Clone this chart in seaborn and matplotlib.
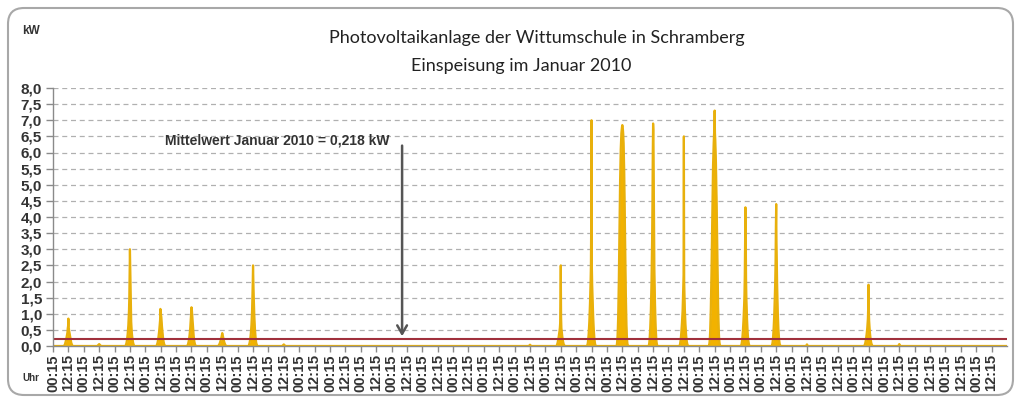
import numpy as np
import pandas as pd
import seaborn as sns
import matplotlib.pyplot as plt
from matplotlib.patches import FancyBboxPatch

# Einspeisung (kW), 15-min values around noon, centred on 12:15 of each day
day01 = [0.00, 0.01, 0.03, 0.05, 0.08, 0.12, 0.16, 0.20, 0.26, 0.31, 0.36, 0.42, 0.55, 0.62, 0.85,
         0.58, 0.50, 0.44, 0.38, 0.31, 0.25, 0.19, 0.14, 0.10, 0.07, 0.04, 0.02, 0.01, 0.00]
day02 = [0.01, 0.02, 0.03, 0.04, 0.05, 0.06, 0.05, 0.04, 0.03, 0.02, 0.01]
day03 = [0.00, 0.02, 0.05, 0.09, 0.14, 0.20, 0.28, 0.38, 0.50, 0.65, 0.85, 1.10, 1.50, 2.20, 3.00,
         2.40, 1.60, 1.05, 0.75, 0.55, 0.40, 0.30, 0.22, 0.15, 0.10, 0.06, 0.03, 0.01, 0.00]
day04 = [0.00, 0.01, 0.03, 0.06, 0.10, 0.15, 0.20, 0.28, 0.36, 0.45, 0.55, 0.68, 0.80, 1.15, 1.00,
         0.95, 0.90, 0.72, 0.60, 0.48, 0.38, 0.28, 0.20, 0.14, 0.09, 0.05, 0.03, 0.01, 0.00]
day05 = [0.00, 0.01, 0.03, 0.05, 0.09, 0.14, 0.19, 0.26, 0.34, 0.44, 0.55, 0.70, 0.85, 1.00, 1.20,
         1.15, 1.00, 0.82, 0.66, 0.52, 0.40, 0.30, 0.21, 0.14, 0.09, 0.05, 0.03, 0.01, 0.00]
day06 = [0.00, 0.00, 0.01, 0.02, 0.04, 0.06, 0.08, 0.11, 0.14, 0.17, 0.21, 0.25, 0.30, 0.35, 0.40,
         0.36, 0.31, 0.26, 0.21, 0.17, 0.13, 0.10, 0.07, 0.05, 0.03, 0.02, 0.01, 0.00, 0.00]
day07 = [0.00, 0.02, 0.05, 0.09, 0.14, 0.20, 0.28, 0.38, 0.50, 0.65, 0.85, 1.10, 1.50, 1.95, 2.50,
         2.00, 1.60, 1.25, 0.95, 0.72, 0.52, 0.38, 0.26, 0.17, 0.10, 0.06, 0.03, 0.01, 0.00]
day08 = [0.01, 0.02, 0.03, 0.04, 0.05, 0.04, 0.03, 0.02, 0.01]
day16 = [0.01, 0.02, 0.03, 0.04, 0.03, 0.02, 0.01]
day17 = [0.00, 0.01, 0.03, 0.06, 0.10, 0.15, 0.20, 0.26, 0.32, 0.40, 0.48, 0.55, 0.70, 1.40, 2.50,
         0.90, 0.55, 0.45, 0.36, 0.28, 0.21, 0.15, 0.10, 0.06, 0.04, 0.02, 0.01, 0.00, 0.00]
day18 = [0.00, 0.03, 0.08, 0.15, 0.25, 0.38, 0.55, 0.75, 1.00, 1.30, 1.65, 2.00, 2.50, 4.00, 7.00,
         2.45, 1.90, 1.55, 1.25, 0.95, 0.70, 0.50, 0.34, 0.22, 0.13, 0.07, 0.03, 0.01, 0.00]
day19 = [0.00, 0.05, 0.15, 0.30, 0.55, 0.90, 1.40, 2.00, 2.80, 3.60, 4.40, 5.10, 5.70, 6.10, 6.40,
         6.60, 6.70, 6.80, 6.85, 6.80, 6.70, 6.55, 6.30, 5.90, 5.40, 4.70, 3.90, 3.10, 2.30, 1.60,
         1.05, 0.65, 0.35, 0.17, 0.07, 0.02, 0.00]
day20 = [0.00, 0.03, 0.10, 0.20, 0.35, 0.55, 0.80, 1.10, 1.50, 2.00, 2.60, 3.40, 4.50, 6.00, 6.90,
         6.70, 5.20, 3.30, 2.40, 1.80, 1.30, 0.90, 0.60, 0.38, 0.22, 0.11, 0.05, 0.02, 0.00]
day21 = [0.00, 0.02, 0.06, 0.12, 0.20, 0.30, 0.42, 0.56, 0.72, 0.90, 1.10, 1.40, 1.80, 2.20, 6.50,
         2.00, 1.50, 1.15, 0.90, 0.68, 0.50, 0.35, 0.24, 0.15, 0.09, 0.05, 0.02, 0.01, 0.00]
day22 = [0.00, 0.04, 0.12, 0.25, 0.45, 0.75, 1.15, 1.65, 2.25, 2.95, 3.70, 4.45, 5.10, 5.60, 6.00,
         6.30, 6.55, 6.70, 7.30, 6.60, 6.40, 6.10, 5.70, 5.20, 4.60, 3.90, 3.15, 2.40, 1.75, 1.20,
         0.78, 0.46, 0.25, 0.12, 0.05, 0.02, 0.00]
day23 = [0.00, 0.02, 0.06, 0.12, 0.20, 0.32, 0.46, 0.62, 0.82, 1.05, 1.30, 1.60, 2.20, 3.20, 4.30,
         3.60, 2.10, 1.50, 1.15, 0.85, 0.60, 0.42, 0.28, 0.17, 0.10, 0.05, 0.02, 0.01, 0.00]
day24 = [0.00, 0.02, 0.07, 0.14, 0.24, 0.38, 0.55, 0.75, 1.00, 1.30, 1.65, 2.05, 2.60, 3.70, 4.40,
         3.20, 2.50, 1.90, 1.45, 1.05, 0.75, 0.52, 0.34, 0.21, 0.12, 0.06, 0.03, 0.01, 0.00]
day25 = [0.01, 0.02, 0.03, 0.05, 0.03, 0.02, 0.01]
day27 = [0.00, 0.01, 0.03, 0.06, 0.10, 0.15, 0.21, 0.28, 0.36, 0.45, 0.55, 0.68, 0.85, 1.20, 1.90,
         1.10, 0.78, 0.60, 0.46, 0.35, 0.26, 0.19, 0.13, 0.08, 0.05, 0.03, 0.01, 0.00, 0.00]
day28 = [0.01, 0.02, 0.04, 0.06, 0.04, 0.02, 0.01]

profiles = {1: day01, 2: day02, 3: day03, 4: day04, 5: day05, 6: day06, 7: day07, 8: day08,
            16: day16, 17: day17, 18: day18, 19: day19, 20: day20, 21: day21, 22: day22,
            23: day23, 24: day24, 25: day25, 27: day27, 28: day28}

mean_kw = 0.218
n_days = 31
time_labels = ['00:15', '12:15'] * n_days
y_ticks = [0.0, 0.5, 1.0, 1.5, 2.0, 2.5, 3.0, 3.5, 4.0, 4.5, 5.0, 5.5, 6.0, 6.5, 7.0, 7.5, 8.0]
y_tick_labels = ['0,0', '0,5', '1,0', '1,5', '2,0', '2,5', '3,0', '3,5', '4,0', '4,5',
                 '5,0', '5,5', '6,0', '6,5', '7,0', '7,5', '8,0']

# whole month as 15-min samples, starting 00:15 on 1 January
kw = np.zeros(n_days * 96)
for day, prof in profiles.items():
    start = (day - 1) * 96 + 48 - len(prof) // 2
    kw[start:start + len(prof)] = prof
df = pd.DataFrame({'idx': np.arange(len(kw)), 'kw': kw})

sns.set_style('white')
plt.rcParams['font.family'] = ['Liberation Sans', 'DejaVu Sans']

fig = plt.figure(figsize=(10.16, 4.01), dpi=100)
ax = fig.add_axes([53 / 1016, 55 / 401, 954 / 1016, 258 / 401])

ax.fill_between(df['idx'], df['kw'], color='#F2B200', linewidth=0, zorder=2)
sns.lineplot(data=df, x='idx', y='kw', ax=ax, color='#E8B00C', linewidth=1.6, zorder=3)
ax.axhline(mean_kw, color='#A0303C', lw=1.5, zorder=4)

ax.set_xlim(0, len(kw))
ax.set_ylim(0, 8)
ax.set_xlabel('')
ax.set_ylabel('')
ax.set_yticks(y_ticks)
ax.set_yticklabels(y_tick_labels, fontsize=11, fontweight='bold', color='#333333')
ax.set_xticks(np.arange(0, len(kw), 48))
ax.set_xticklabels(time_labels, rotation=90, fontsize=10.5, fontweight='bold', color='#333333')
ax.yaxis.grid(True, linestyle=(0, (4, 3)), color='#b0b0b0', lw=0.9)
ax.xaxis.grid(False)
ax.set_axisbelow(True)
for s in ['top', 'right']:
    ax.spines[s].set_visible(False)
for s in ['left', 'bottom']:
    ax.spines[s].set_color('#8a8a8a')
    ax.spines[s].set_linewidth(1)
    ax.spines[s].set_zorder(5)
ax.tick_params(axis='y', length=5, width=1, color='#8a8a8a', pad=3, left=True)
ax.tick_params(axis='x', length=4, width=1, color='#8a8a8a', pad=2, bottom=True)

# Mittelwert annotation
ax.annotate('', xy=(1089, mean_kw), xytext=(1089, 6.3),
            arrowprops=dict(arrowstyle='->,head_length=0.6,head_width=0.35', color='#555555', lw=1.8))
ax.text(1051, 6.38, 'Mittelwert Januar 2010 = 0,218 kW', ha='right', va='center',
        fontsize=10, fontweight='bold', color='#333333')

fig.text(537 / 1016, 1 - 38 / 401, 'Photovoltaikanlage der Wittumschule in Schramberg',
         ha='center', va='center', fontsize=13, family=['Lato', 'DejaVu Sans'], color='#222222')
fig.text(521 / 1016, 1 - 66 / 401, 'Einspeisung im Januar 2010',
         ha='center', va='center', fontsize=13, family=['Lato', 'DejaVu Sans'], color='#222222')
fig.text(22 / 1016, 1 - 31 / 401, 'kW', ha='left', va='center', fontsize=8.5, fontweight='bold', color='#333333')
fig.text(22 / 1016, 1 - 378 / 401, 'Uhr', ha='left', va='center', fontsize=7, fontweight='bold', color='#333333')

frame = FancyBboxPatch((8, 6), 1005, 387, boxstyle='round,pad=0,rounding_size=16',
                       transform=None, fill=False, edgecolor='#a8a8a8', lw=1.5)
fig.add_artist(frame)

plt.savefig('out.png', dpi=100)
